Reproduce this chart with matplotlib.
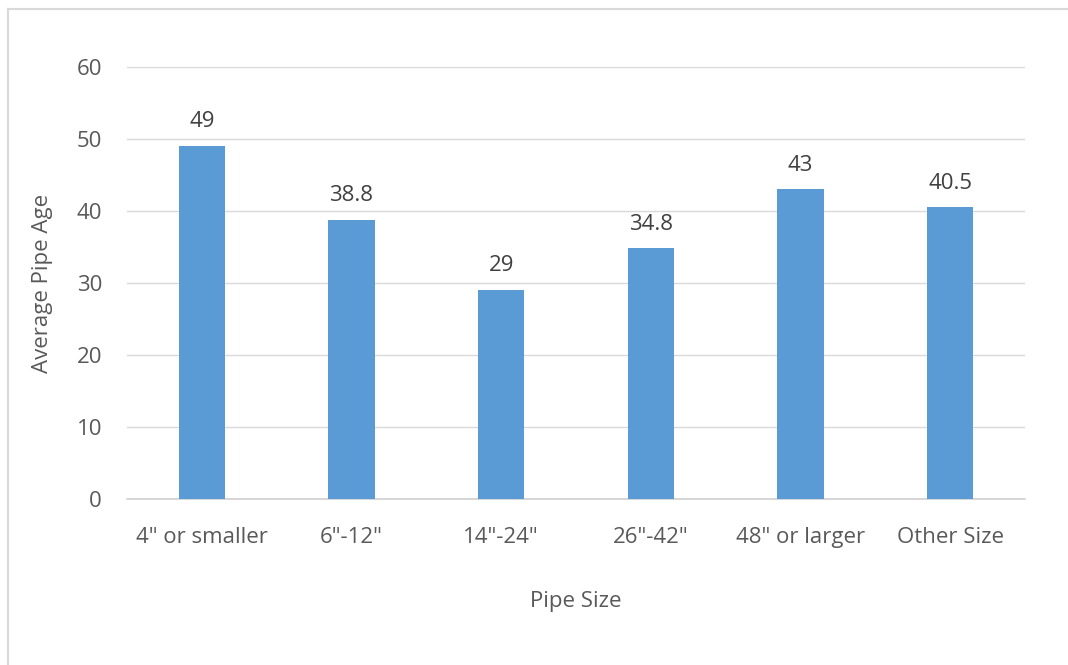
import matplotlib
matplotlib.use("Agg")
import matplotlib.pyplot as plt
from matplotlib.lines import Line2D

categories = ['4" or smaller', '6"-12"', '14"-24"', '26"-42"', '48" or larger', 'Other Size']
values = [49, 38.8, 29, 34.8, 43, 40.5]
labels = ["49", "38.8", "29", "34.8", "43", "40.5"]
yticks = [0, 10, 20, 30, 40, 50, 60]

plt.rcParams['font.family'] = ['Open Sans', 'DejaVu Sans']
W, H = 1068, 665
fig = plt.figure(figsize=(W / 100, H / 100), dpi=100)
bx, by = 7.5 / W, 1 - 8.5 / H
fig.add_artist(Line2D([bx, bx], [-0.1, by], transform=fig.transFigure,
                      color='#d9d9d9', linewidth=1.5))
fig.add_artist(Line2D([bx, 1.1], [by, by], transform=fig.transFigure,
                      color='#d9d9d9', linewidth=1.5))
ax = fig.add_axes([127 / W, 1 - 499 / H, (1025 - 127) / W, (499 - 67) / H])

text_color = '#595959'
fs = 16
x = range(len(categories))
bars = ax.bar(x, values, width=0.31, color='#5b9bd5', zorder=3)
for b, lab in zip(bars, labels):
    ax.annotate(lab, (b.get_x() + b.get_width() / 2, b.get_height()),
                xytext=(0, 10), textcoords='offset points', ha='center', va='bottom',
                fontsize=fs, color='#404040')

ax.set_xlim(-0.5, len(categories) - 0.5)
ax.set_ylim(0, 60)
ax.set_yticks(yticks)
ax.set_xticks(list(x))
ax.set_xticklabels(categories)
ax.grid(axis='y', color='#d9d9d9', linewidth=1, zorder=0)
for s in ['top', 'right', 'left']:
    ax.spines[s].set_visible(False)
ax.spines['bottom'].set_color('#d0d0d0')
ax.spines['bottom'].set_linewidth(1.2)
ax.tick_params(axis='both', length=0, labelsize=fs, labelcolor=text_color)
ax.tick_params(axis='y', pad=18)
ax.tick_params(axis='x', pad=20)
ax.set_ylabel('Average Pipe Age', fontsize=fs, color=text_color, labelpad=17)
ax.set_xlabel('Pipe Size', fontsize=fs, color=text_color, labelpad=31)

fig.savefig('out.png', dpi=100)
